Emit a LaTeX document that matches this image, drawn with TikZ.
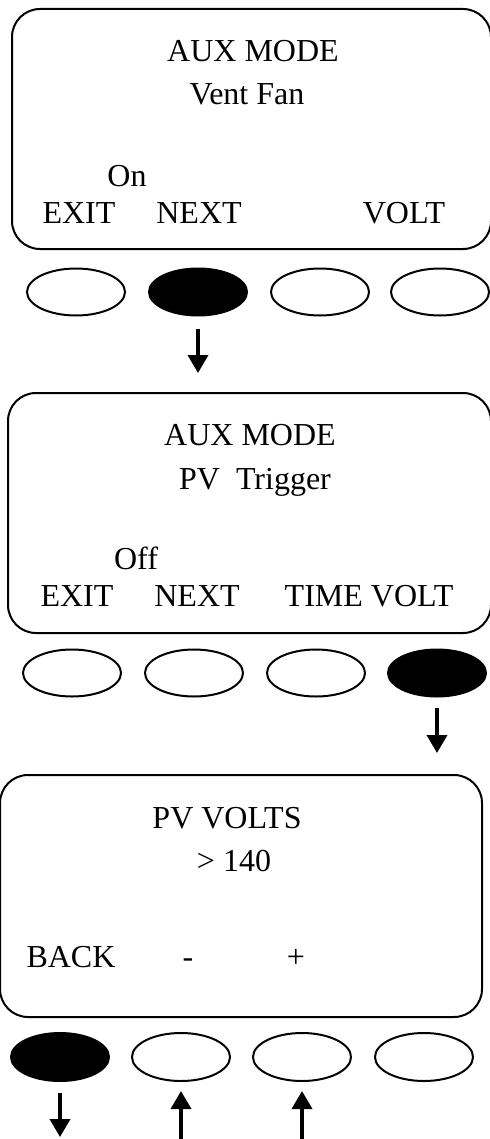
\documentclass[tikz,border=0pt]{standalone}
\usepackage{fontspec}
\setmainfont{Liberation Serif}
\usetikzlibrary{positioning,shapes.geometric,arrows.meta}

\begin{document}
\begin{tikzpicture}[x=0.5pt, y=-0.5pt, >={Triangle[width=10pt,length=9pt]}]
    \tikzstyle{panel}=[rectangle, draw, line width=1pt, rounded corners=14pt, inner sep=0pt]
    \tikzstyle{btn}=[ellipse, draw, line width=1pt, inner sep=0pt, minimum width=49pt, minimum height=23.5pt]
    \tikzstyle{btnon}=[btn, fill=black]
    \tikzstyle{lbl}=[anchor=base, inner sep=0pt, font=\fontsize{16}{19}\selectfont]
    \tikzstyle{push}=[->, line width=1.8pt]

    \useasboundingbox (0,0) rectangle (490,1139);

    % first screen
    \node[panel, minimum width=239.5pt, minimum height=120pt] (scr1) at (251.5,129) {};
    \node[lbl] (t1a) at (253,62) {AUX MODE};
    \node[lbl] (t1b) at (247,105) {Vent Fan};
    \node[lbl] (t1c) at (127,187) {On};
    \node[lbl] (t1exit) at (79,223) {EXIT};
    \node[lbl] (t1next) at (199,223) {NEXT};
    \node[lbl] (t1volt) at (404,223) {VOLT};

    \node[btn] (b11) at (76,292) {};
    \node[btnon] (b12) at (198,292) {};
    \node[btn] (b13) at (320,292) {};
    \node[btn] (b14) at (440,292) {};

    \coordinate (c1) at (198,373);
    \draw[push, shorten <=6pt] (b12.south) -- (c1);

    % second screen
    \node[panel, minimum width=241.5pt, minimum height=120pt] (scr2) at (249.5,513) {};
    \node[lbl] (t2a) at (250,445) {AUX MODE};
    \node[lbl] (t2b) at (255,489) {PV\ \ Trigger};
    \node[lbl] (t2c) at (136,569) {Off};
    \node[lbl] (t2exit) at (77,606) {EXIT};
    \node[lbl] (t2next) at (197,606) {NEXT};
    \node[lbl] (t2volt) at (369,606) {TIME VOLT};

    \node[btn] (b21) at (72,673) {};
    \node[btn] (b22) at (194,673) {};
    \node[btn] (b23) at (316,673) {};
    \node[btnon] (b24) at (437,673) {};

    \coordinate (c2) at (437,753);
    \draw[push, shorten <=5pt] (b24.south) -- (c2);

    % third screen
    \node[panel, minimum width=241pt, minimum height=121pt] (scr3) at (241,896) {};
    \node[lbl] (t3a) at (227,828) {PV VOLTS};
    \node[lbl] (t3b) at (234,871) {> 140};
    \node[lbl] (t3back) at (71,967) {BACK};
    \node[lbl] (t3minus) at (188,967) {-};
    \node[lbl] (t3plus) at (296,967) {+};

    \node[btnon, minimum height=24pt] (b31) at (60,1057) {};
    \node[btn, minimum height=24pt] (b32) at (181,1057) {};
    \node[btn, minimum height=24pt] (b33) at (302,1057) {};
    \node[btn, minimum height=24pt] (b34) at (424,1057) {};

    \coordinate (c31) at (60,1137);
    \coordinate (c32) at (181,1141);
    \coordinate (c33) at (302,1141);
    \draw[push, shorten <=5.5pt] (b31.south) -- (c31);
    \draw[push, shorten >=4.5pt] (c32) -- (b32.south);
    \draw[push, shorten >=4.5pt] (c33) -- (b33.south);
\end{tikzpicture}
\end{document}
